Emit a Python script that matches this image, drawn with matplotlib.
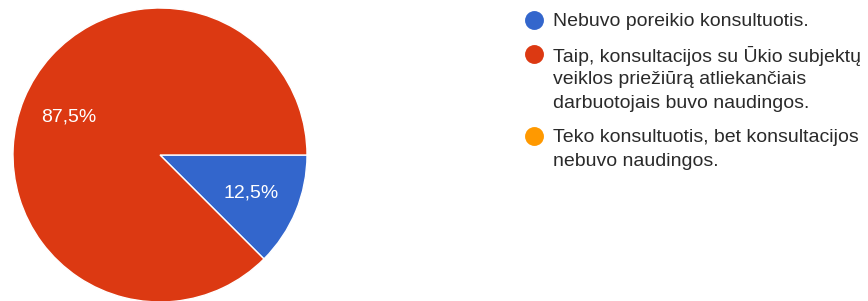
import matplotlib
matplotlib.use("Agg")
import matplotlib.pyplot as plt

# data
labels = ["Nebuvo poreikio konsultuotis.",
          "Taip, konsultacijos su Ūkio subjektų\nveiklos priežiūrą atliekančiais\ndarbuotojais buvo naudingos.",
          "Teko konsultuotis, bet konsultacijos\nnebuvo naudingos."]
values = [12.5, 87.5, 0]
colors = ["#3366CC", "#DC3912", "#FF9900"]

plt.rcParams['font.family'] = ['Liberation Sans', 'DejaVu Sans']

W, H = 868, 301
fig = plt.figure(figsize=(W / 100, H / 100), dpi=100)

# pie: centre (160,155) px, radius 147 px
cx, cy, r = 160, 155, 147
ax = fig.add_axes([(cx - r) / W, (H - cy - r) / H, 2 * r / W, 2 * r / H])
pv = [v for v in values if v > 0]
pc = [c for v, c in zip(values, colors) if v > 0]
wedges, texts, autotexts = ax.pie(
    pv, colors=pc, startangle=0, counterclock=False, radius=1,
    autopct=lambda p: f"{p:.1f}%".replace(".", ","), pctdistance=0.67,
    wedgeprops=dict(edgecolor="white", linewidth=1),
    textprops=dict(color="white", fontsize=14))
ax.set_xlim(-1, 1)
ax.set_ylim(-1, 1)
ax.set_aspect("equal")

# legend, drawn by hand (pixel coords)
lg = fig.add_axes([0, 0, 1, 1])
lg.set_xlim(0, W)
lg.set_ylim(H, 0)
lg.axis("off")
y = 19.5
for lab, col in zip(labels, colors):
    lg.scatter([534], [y], s=185, color=col, linewidths=0, zorder=3)
    lines = lab.split("\n")
    for k, ln in enumerate(lines):
        lg.text(553, y + k * 24, ln, fontsize=14, color="#2a2a2a",
                va="center_baseline")
    y += (len(lines) - 1) * 24 + 34

fig.savefig("out.png", dpi=100)
